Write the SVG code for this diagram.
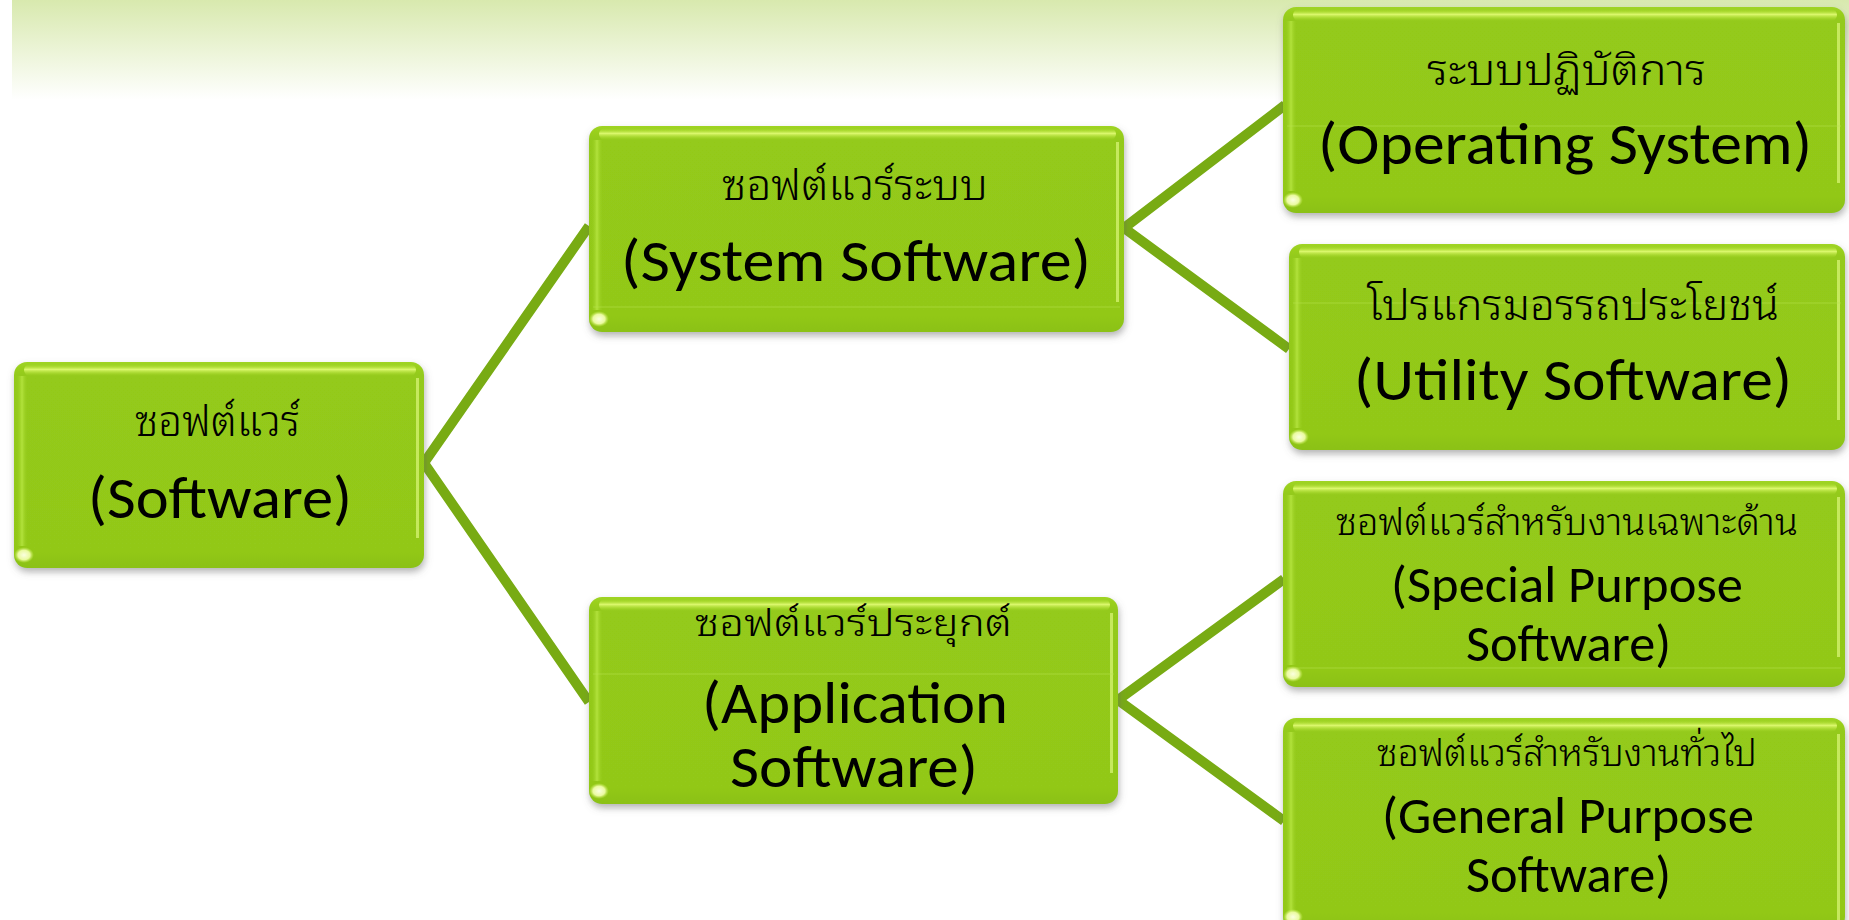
<svg xmlns="http://www.w3.org/2000/svg" width="1849" height="920" viewBox="0 0 1849 920">
<style>
.box{fill:url(#boxFill);filter:url(#shadow)}
.tophi{fill:url(#topHi)}
.lefthi{fill:url(#leftHi)}
.righthi{fill:#dcf77a;opacity:0.7}
.blob{fill:url(#blobG)}
.seam{stroke:#b7e24e;stroke-width:1;opacity:0.55}
.th{font-family:"Noto Sans Thai Looped","Noto Serif Thai","Noto Sans Thai","Loma","Garuda",sans-serif;font-size:42px;font-weight:300;fill:#000}
.th.s{font-size:37px}
.th.a{font-size:38px}
.en{font-family:"Carlito","Lato","Open Sans",sans-serif;font-size:60px;fill:#000}
.en.s{font-size:51px}
.conn{stroke:#78ab13;stroke-width:10;fill:none;stroke-linejoin:miter;stroke-linecap:butt}
</style>
<defs>
<linearGradient id="bg" x1="0" y1="0" x2="0" y2="1">
<stop offset="0" stop-color="#d8e9ae"/>
<stop offset="1" stop-color="#ffffff"/>
</linearGradient>
<linearGradient id="boxFill" x1="0" y1="0" x2="0" y2="1">
<stop offset="0" stop-color="#9fd422"/>
<stop offset="0.06" stop-color="#94ca1a"/>
<stop offset="0.92" stop-color="#92c819"/>
<stop offset="1" stop-color="#8bc117"/>
</linearGradient>
<linearGradient id="topHi" x1="0" y1="0" x2="0" y2="1">
<stop offset="0" stop-color="#a8da2a" stop-opacity="0"/>
<stop offset="0.45" stop-color="#dcf86e" stop-opacity="1"/>
<stop offset="1" stop-color="#a8da2a" stop-opacity="0"/>
</linearGradient>
<linearGradient id="leftHi" x1="0" y1="0" x2="1" y2="0">
<stop offset="0" stop-color="#94ca1a" stop-opacity="0"/>
<stop offset="0.5" stop-color="#b2e23c" stop-opacity="1"/>
<stop offset="1" stop-color="#94ca1a" stop-opacity="0"/>
</linearGradient>
<radialGradient id="blobG" cx="0.5" cy="0.5" r="0.5">
<stop offset="0" stop-color="#fbffe0"/>
<stop offset="0.6" stop-color="#eafaa0"/>
<stop offset="1" stop-color="#c4ea50" stop-opacity="0"/>
</radialGradient>
<filter id="shadow" x="-5%" y="-5%" width="110%" height="115%">
<feDropShadow dx="1" dy="4" stdDeviation="3.5" flood-color="#6a6a6a" flood-opacity="0.5"/>
</filter>
</defs>
<rect x="0" y="0" width="1849" height="920" fill="#ffffff"/>
<rect x="12" y="0" width="1837" height="100" fill="url(#bg)"/>
<g id="connectors">
<polyline class="conn" points="589,226 424,463 589,702"/>
<polyline class="conn" points="1285,105 1124,228 1289,349"/>
<polyline class="conn" points="1284,579 1118,700 1284,821"/>
</g>
<g id="node-software" transform="translate(14,362)">
<rect class="box" x="0" y="0" width="410" height="206" rx="13"/>
<rect class="tophi" x="10" y="2" width="392" height="12" rx="6"/>
<rect class="lefthi" x="2" y="14" width="12" height="170"/>
<rect class="righthi" x="402" y="16" width="3" height="160"/>
<ellipse class="blob" cx="10" cy="193" rx="10" ry="8"/>
<text class="th" x="121" y="74" textLength="165" lengthAdjust="spacingAndGlyphs">ซอฟต์แวร์</text>
<text class="en" x="74" y="156" textLength="264" lengthAdjust="spacingAndGlyphs">(Software)</text>
</g>
<g id="node-system" transform="translate(589,126)">
<rect class="box" x="0" y="0" width="535" height="206" rx="13"/>
<rect class="tophi" x="10" y="2" width="517" height="12" rx="6"/>
<rect class="lefthi" x="2" y="14" width="12" height="170"/>
<rect class="righthi" x="527" y="16" width="3" height="160"/>
<line class="seam" x1="4" y1="181" x2="531" y2="181"/>
<ellipse class="blob" cx="10" cy="193" rx="10" ry="8"/>
<text class="th" x="133" y="74" textLength="266" lengthAdjust="spacingAndGlyphs">ซอฟต์แวร์ระบบ</text>
<text class="en" x="32" y="155" textLength="470" lengthAdjust="spacingAndGlyphs">(System Software)</text>
</g>
<g id="node-application" transform="translate(589,597)">
<rect class="box" x="0" y="0" width="529" height="207" rx="13"/>
<rect class="tophi" x="10" y="2" width="511" height="12" rx="6"/>
<rect class="lefthi" x="2" y="14" width="12" height="170"/>
<rect class="righthi" x="521" y="16" width="3" height="160"/>
<line class="seam" x1="4" y1="77" x2="525" y2="77"/>
<ellipse class="blob" cx="10" cy="194" rx="10" ry="8"/>
<text class="th a" x="106" y="39" textLength="317" lengthAdjust="spacingAndGlyphs">ซอฟต์แวร์ประยุกต์</text>
<text class="en" x="113" y="126" textLength="306" lengthAdjust="spacingAndGlyphs">(Application</text>
<text class="en" x="141" y="190" textLength="248" lengthAdjust="spacingAndGlyphs">Software)</text>
</g>
<g id="node-os" transform="translate(1283,7)">
<rect class="box" x="0" y="0" width="562" height="206" rx="13"/>
<rect class="tophi" x="10" y="2" width="544" height="12" rx="6"/>
<rect class="lefthi" x="2" y="14" width="12" height="170"/>
<rect class="righthi" x="554" y="16" width="3" height="160"/>
<line class="seam" x1="4" y1="119" x2="558" y2="119"/>
<ellipse class="blob" cx="10" cy="193" rx="10" ry="8"/>
<text class="th" x="144" y="78" textLength="279" lengthAdjust="spacingAndGlyphs">ระบบปฏิบัติการ</text>
<text class="en" x="35" y="157" textLength="494" lengthAdjust="spacingAndGlyphs">(Operating System)</text>
</g>
<g id="node-utility" transform="translate(1289,244)">
<rect class="box" x="0" y="0" width="556" height="206" rx="13"/>
<rect class="tophi" x="10" y="2" width="538" height="12" rx="6"/>
<rect class="lefthi" x="2" y="14" width="12" height="170"/>
<rect class="righthi" x="548" y="16" width="3" height="160"/>
<line class="seam" x1="4" y1="59" x2="552" y2="59"/>
<ellipse class="blob" cx="10" cy="193" rx="10" ry="8"/>
<text class="th" x="78" y="76" textLength="412" lengthAdjust="spacingAndGlyphs">โปรแกรมอรรถประโยชน์</text>
<text class="en" x="65" y="156" textLength="438" lengthAdjust="spacingAndGlyphs">(Utility Software)</text>
</g>
<g id="node-special" transform="translate(1283,481)">
<rect class="box" x="0" y="0" width="562" height="206" rx="13"/>
<rect class="tophi" x="10" y="2" width="544" height="12" rx="6"/>
<rect class="lefthi" x="2" y="14" width="12" height="170"/>
<rect class="righthi" x="554" y="16" width="3" height="160"/>
<line class="seam" x1="4" y1="187" x2="558" y2="187"/>
<ellipse class="blob" cx="10" cy="193" rx="10" ry="8"/>
<text class="th s" x="53" y="54" textLength="462" lengthAdjust="spacingAndGlyphs">ซอฟต์แวร์สำหรับงานเฉพาะด้าน</text>
<text class="en s" x="108" y="121" textLength="352" lengthAdjust="spacingAndGlyphs">(Special Purpose</text>
<text class="en s" x="183" y="180" textLength="205" lengthAdjust="spacingAndGlyphs">Software)</text>
</g>
<g id="node-general" transform="translate(1283,718)">
<rect class="box" x="0" y="0" width="562" height="212" rx="13"/>
<rect class="tophi" x="10" y="2" width="544" height="12" rx="6"/>
<rect class="lefthi" x="2" y="14" width="12" height="190"/>
<rect class="righthi" x="554" y="16" width="3" height="190"/>
<ellipse class="blob" cx="10" cy="199" rx="10" ry="8"/>
<text class="th s" x="94" y="48" textLength="380" lengthAdjust="spacingAndGlyphs">ซอฟต์แวร์สำหรับงานทั่วไป</text>
<text class="en s" x="99" y="115" textLength="372" lengthAdjust="spacingAndGlyphs">(General Purpose</text>
<text class="en s" x="183" y="174" textLength="205" lengthAdjust="spacingAndGlyphs">Software)</text>
</g>
</svg>
